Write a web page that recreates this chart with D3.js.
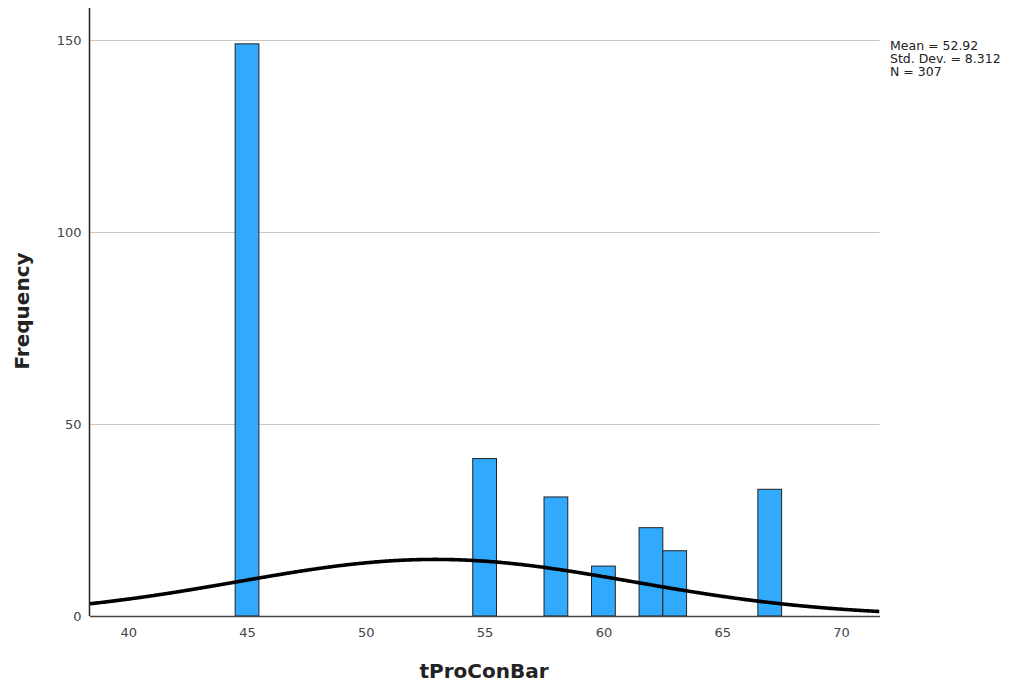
<!DOCTYPE html>
<html><head><meta charset="utf-8">
<script src="https://cdn.jsdelivr.net/npm/d3@7"></script>
<style>body{margin:0;background:#fff;} svg{display:block;}</style>
</head><body>
<svg id="c" width="1021" height="688"></svg>
<script>
const binCenters = [45, 55, 58, 60, 62, 63, 67];
const frequencies = [149, 41, 31, 13, 23, 17, 33];
const binWidth = 1;
const xTicks = [40, 45, 50, 55, 60, 65, 70];
const yTicks = [0, 50, 100, 150];
const statMean = 52.92, statSD = 8.312, statN = 307;
const statLines = ["Mean = 52.92", "Std. Dev. = 8.312", "N = 307"];

const svg = d3.select("#c");
const L = 89.5, R = 879.5, T = 8, B = 616;
const x = d3.scaleLinear().domain([38.37, 71.62]).range([L, R]);
const y = d3.scaleLinear().domain([0, 150]).range([B, 40]);

const font = "'DejaVu Sans', sans-serif";

// gridlines
svg.append("g").selectAll("line").data(yTicks.filter(d => d > 0)).join("line")
  .attr("x1", L).attr("x2", R).attr("y1", d => Math.round(y(d)) + 0.5).attr("y2", d => Math.round(y(d)) + 0.5)
  .attr("stroke", "#c8c8c8").attr("stroke-width", 1.2);

// clip
svg.append("clipPath").attr("id", "clip").append("rect")
  .attr("x", L).attr("y", T).attr("width", R - L).attr("height", B - T);

// bars
svg.append("g").selectAll("rect").data(binCenters).join("rect")
  .attr("x", d => x(d - binWidth / 2))
  .attr("width", d => x(d + binWidth / 2) - x(d - binWidth / 2))
  .attr("y", (d, i) => y(frequencies[i]))
  .attr("height", (d, i) => B - y(frequencies[i]))
  .attr("fill", "#31a9fd").attr("stroke", "#222").attr("stroke-width", 1);

// normal curve
const pdf = v => statN * binWidth / (statSD * Math.sqrt(2 * Math.PI)) * Math.exp(-0.5 * ((v - statMean) / statSD) ** 2);
const xs = d3.range(0, 401).map(i => x.domain()[0] + (x.domain()[1] - x.domain()[0]) * i / 400);
svg.append("path").datum(xs)
  .attr("clip-path", "url(#clip)")
  .attr("d", d3.line().x(d => x(d)).y(d => y(pdf(d))).curve(d3.curveBasis))
  .attr("fill", "none").attr("stroke", "#000").attr("stroke-width", 3.6);

// axes
const xAxis = svg.append("g").attr("transform", `translate(0,${B})`)
  .call(d3.axisBottom(x).tickValues(xTicks).tickSize(0).tickPadding(12));
xAxis.select(".domain").attr("stroke", "#444").attr("stroke-width", 1.5);
xAxis.selectAll("text").attr("font-family", font).attr("font-size", 13).attr("fill", "#444");

const yAxis = svg.append("g").attr("transform", `translate(${L},0)`)
  .call(d3.axisLeft(y).tickValues(yTicks).tickSize(0).tickPadding(8));
yAxis.select(".domain").remove();
yAxis.selectAll("text").attr("font-family", font).attr("font-size", 13).attr("fill", "#444");
svg.append("line").attr("x1", L).attr("x2", L).attr("y1", T).attr("y2", B)
  .attr("stroke", "#222").attr("stroke-width", 1.5);

// titles
svg.append("text").attr("x", 484).attr("y", 678).attr("text-anchor", "middle")
  .attr("font-family", font).attr("font-weight", "bold").attr("font-size", 20).attr("fill", "#222")
  .text("tProConBar");
svg.append("text").attr("transform", "translate(29,311) rotate(-90)").attr("text-anchor", "middle")
  .attr("font-family", font).attr("font-weight", "bold").attr("font-size", 20).attr("fill", "#222")
  .text("Frequency");

// stats
svg.append("g").selectAll("text").data(statLines).join("text")
  .attr("x", 890).attr("y", (d, i) => 50 + i * 13)
  .attr("font-family", font).attr("font-size", 12.5).attr("fill", "#222")
  .text(d => d);
</script>
</body></html>
